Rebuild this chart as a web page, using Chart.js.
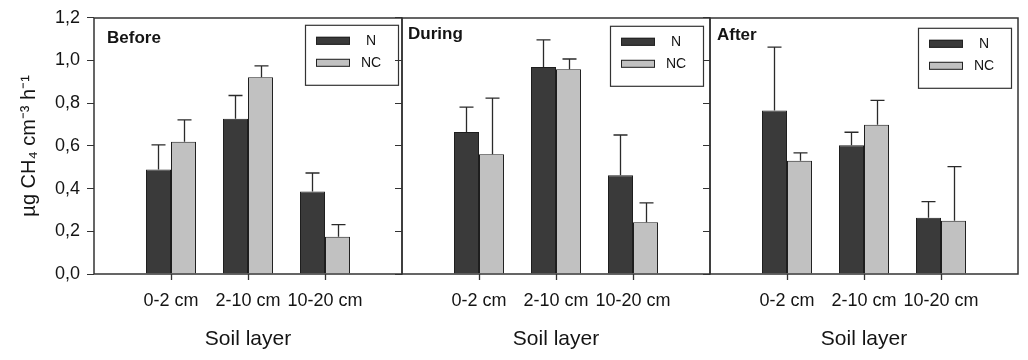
<!DOCTYPE html>
<html lang="en">
<head>
<meta charset="UTF-8">
<title>CH4 production by soil layer</title>
<script src="https://cdn.jsdelivr.net/npm/chart.js"></script>
<style>
  body { margin: 0; background: #fff; }
  #wrap { position: relative; width: 1028px; height: 360px; }
  #wrap canvas { position: absolute; left: 0; top: 0; }
</style>
</head>
<body>
<div id="wrap">
  <canvas id="before" width="1028" height="360"></canvas>
  <canvas id="during" width="1028" height="360"></canvas>
  <canvas id="after" width="1028" height="360"></canvas>
</div>
<script>
// data (upper error bar = mean + SE)
const layers = ['0-2 cm', '2-10 cm', '10-20 cm'];
const yTickLabels = ['0,0', '0,2', '0,4', '0,6', '0,8', '1,0', '1,2'];
const seriesNames = ['N', 'NC'];

const beforeN = [0.49, 0.727, 0.386];
const beforeNErr = [0.115, 0.109, 0.087];
const beforeNC = [0.619, 0.922, 0.175];
const beforeNCErr = [0.103, 0.053, 0.056];

const duringN = [0.665, 0.970, 0.463];
const duringNErr = [0.117, 0.127, 0.188];
const duringNC = [0.561, 0.959, 0.242];
const duringNCErr = [0.263, 0.048, 0.091];

const afterN = [0.766, 0.603, 0.264];
const afterNErr = [0.297, 0.061, 0.075];
const afterNC = [0.530, 0.699, 0.249];
const afterNCErr = [0.037, 0.114, 0.254];

const FONT = 'Arial, "Liberation Sans", sans-serif';
const INK = '#141414';
const colN = '#3a3a3a';
const colNC = '#c1c1c1';

// empty slots either side so the three layers sit at 1/4, 2/4, 3/4 of the panel
const pad = arr => [null, ...arr, null];

const decor = {
  id: 'decor',
  afterDatasetsDraw(chart, args, opts) {
    const ctx = chart.ctx;
    const x = chart.scales.x;
    const y = chart.scales.y;
    const ca = chart.chartArea;
    ctx.save();

    // error bars (upper only)
    ctx.strokeStyle = '#2a2a2a';
    ctx.lineWidth = 1.3;
    chart.data.datasets.forEach((ds, i) => {
      chart.getDatasetMeta(i).data.forEach((bar, j) => {
        const v = ds.data[j];
        if (v == null) return;
        const top = y.getPixelForValue(v + ds.err[j]);
        const bx = Math.round(bar.x) + 0.5;
        ctx.beginPath();
        ctx.moveTo(bx, bar.y);
        ctx.lineTo(bx, top);
        ctx.moveTo(bx - 7, top);
        ctx.lineTo(bx + 7, top);
        ctx.stroke();
      });
    });

    // panel frame
    ctx.strokeStyle = '#333';
    ctx.lineWidth = 1.5;
    ctx.strokeRect(Math.round(ca.left), Math.round(ca.top), Math.round(ca.right - ca.left), Math.round(ca.bottom - ca.top));

    // category tick marks below the axis
    ctx.lineWidth = 1.3;
    layers.forEach((l, k) => {
      const tx = Math.round(x.getPixelForValue(k + 1)) + 0.5;
      ctx.beginPath();
      ctx.moveTo(tx, ca.bottom);
      ctx.lineTo(tx, ca.bottom + 6);
      ctx.stroke();
    });

    // panel title
    ctx.fillStyle = INK;
    ctx.font = 'bold 17px ' + FONT;
    ctx.textAlign = 'left';
    ctx.textBaseline = 'middle';
    ctx.fillText(opts.title, ca.left + opts.titleDx, ca.top + opts.titleDy);

    // boxed legend
    const lx = ca.right - opts.legendRight - 93;
    const ly = ca.top + opts.legendTop;
    ctx.lineWidth = 1.2;
    ctx.strokeStyle = '#333';
    ctx.strokeRect(lx + 0.5, ly + 0.5, 93, 60);
    ctx.font = '14px ' + FONT;
    ctx.textAlign = 'center';
    chart.data.datasets.forEach((ds, i) => {
      const sy = ly + 12 + i * 22;
      ctx.fillStyle = ds.backgroundColor;
      ctx.fillRect(lx + 11, sy, 34, 8);
      ctx.lineWidth = 1;
      ctx.strokeStyle = '#222';
      ctx.strokeRect(lx + 11.5, sy + 0.5, 33, 7);
      ctx.fillStyle = INK;
      ctx.fillText(ds.label, lx + 66, sy + 4.5);
    });
    ctx.restore();
  }
};

function makePanel(id, n, nErr, nc, ncErr, p) {
  new Chart(document.getElementById(id), {
    type: 'bar',
    data: {
      labels: pad(layers).map(l => l || ''),
      datasets: [
        { label: seriesNames[0], data: pad(n), err: pad(nErr), backgroundColor: colN, borderColor: '#1e1e1e', borderWidth: 1 },
        { label: seriesNames[1], data: pad(nc), err: pad(ncErr), backgroundColor: colNC, borderColor: '#1e1e1e', borderWidth: 1 }
      ]
    },
    options: {
      responsive: false,
      animation: false,
      layout: { padding: { left: p.left, right: 1028 - p.right, top: 16, bottom: 0 } },
      datasets: { bar: { categoryPercentage: 0.65, barPercentage: 1.0 } },
      plugins: {
        legend: { display: false },
        tooltip: { enabled: false },
        decor: { title: p.title, titleDx: p.titleDx, titleDy: p.titleDy, legendRight: p.legendRight, legendTop: p.legendTop }
      },
      scales: {
        x: {
          offset: false,
          border: { display: false },
          // tick marks are drawn by the decor plugin; keep the space for them here
          grid: { offset: false, drawOnChartArea: false, tickLength: 6, tickColor: 'rgba(0,0,0,0)' },
          ticks: { autoSkip: false, maxRotation: 0, color: INK, font: { family: FONT, size: 18 }, padding: 10 },
          title: { display: true, text: 'Soil layer', color: INK, font: { family: FONT, size: 21 }, padding: { top: 0, bottom: 8 } },
          afterFit: s => { s.height = 86; }
        },
        y: {
          min: 0,
          max: 1.2,
          border: { display: false },
          grid: { drawOnChartArea: false, tickLength: 7, tickColor: '#333' },
          ticks: {
            stepSize: 0.2,
            color: INK,
            padding: 7,
            font: { family: FONT, size: 18 },
            callback: (v, i) => p.yLabels ? yTickLabels[i] : ''
          },
          title: {
            display: p.yLabels,
            text: 'µg CH₄ cm⁻³ h⁻¹',
            color: INK,
            font: { family: FONT, size: 20 },
            padding: { top: 17, bottom: 0 }
          },
          afterFit: s => { s.width = p.axisWidth; }
        }
      }
    },
    plugins: [decor]
  });
}

makePanel('before', beforeN, beforeNErr, beforeNC, beforeNCErr,
  { left: 0, axisWidth: 94, right: 402, yLabels: true, title: 'Before', titleDx: 13, titleDy: 21, legendRight: 4, legendTop: 7 });
makePanel('during', duringN, duringNErr, duringNC, duringNCErr,
  { left: 392, axisWidth: 10, right: 710, yLabels: false, title: 'During', titleDx: 6, titleDy: 17, legendRight: 7, legendTop: 8 });
makePanel('after', afterN, afterNErr, afterNC, afterNCErr,
  { left: 700, axisWidth: 10, right: 1018, yLabels: false, title: 'After', titleDx: 7, titleDy: 18, legendRight: 7, legendTop: 10 });
</script>
</body>
</html>
